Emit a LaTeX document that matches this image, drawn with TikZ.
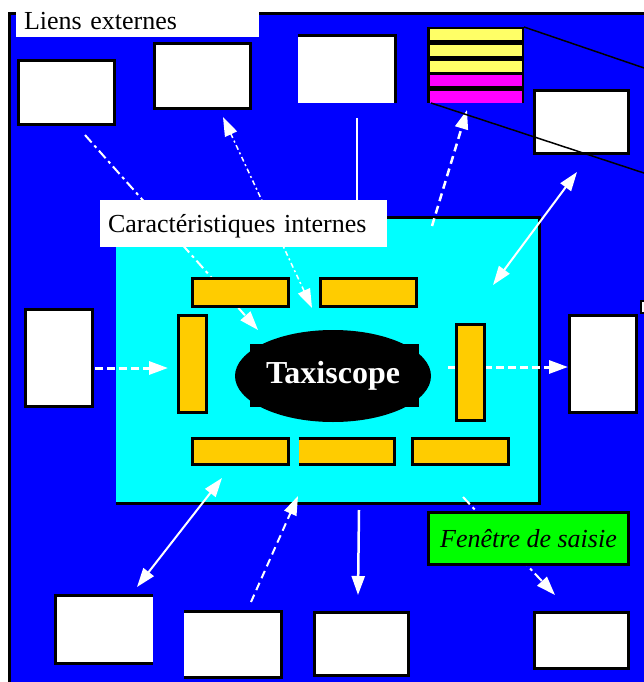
\documentclass[tikz,border=0pt]{standalone}
\usepackage{fontspec}
\setmainfont{Liberation Serif}
\usetikzlibrary{positioning,arrows.meta,shapes.geometric}
\definecolor{Fond}{HTML}{0000FF}
\definecolor{Zone}{HTML}{00FFFF}
\definecolor{Barre}{HTML}{FFCC00}
\definecolor{Pale}{HTML}{FFFF66}
\definecolor{Rose}{HTML}{FF00FF}
\definecolor{Saisie}{HTML}{00FF00}

\begin{document}
\begin{tikzpicture}[x=1pt, y=-1pt,
        ext/.style={fill=white, draw=black, line width=3pt,
                    inner sep=0pt, outer sep=0pt},
        nu/.style={fill=white, inner sep=0pt, outer sep=0pt},
        barre/.style={fill=Barre, draw=black, line width=3pt,
                      inner sep=0pt, outer sep=0pt},
        bande/.style={inner sep=0pt, outer sep=0pt,
                      minimum width=92pt, minimum height=11pt},
        etiquette/.style={fill=white, anchor=north west, align=left,
                          inner xsep=8pt, inner ysep=0pt, outer sep=0pt,
                          font=\fontsize{26}{30}\selectfont},
        lien/.style={white, line width=2pt},
        tete/.style={-{Triangle[length=19pt,width=13pt]}},
        deuxtetes/.style={{Triangle[length=19pt,width=13pt]}-{Triangle[length=19pt,width=13pt]}},
        tirets/.style={dash pattern=on 8pt off 5pt},
        mixte/.style={dash pattern=on 10pt off 4pt on 3pt off 4pt}
      ]
        \useasboundingbox (0,0) rectangle (644,682);
        \clip (0,0) rectangle (644,682);
        % fond bleu
        \fill[Fond] (9.5,13.5) rectangle (650,690);
        \draw[line width=3.5pt] (9.5,690) -- (9.5,13.5) -- (650,13.5);
        % zone interne
        \node[fill=Zone, inner sep=0pt, outer sep=0pt,
              minimum width=423.5pt, minimum height=286pt] (zone) at (327.75,360) {};
        \draw[line width=3pt] (zone.north west) -- (zone.north east)
              -- (zone.south east) -- (zone.south west);

        % extremites des liens
        \coordinate (d1) at (85,135);   \coordinate (f1) at (258,330);
        \coordinate (d2) at (312,308);  \coordinate (f2) at (223,117);
        \coordinate (d3) at (357,118);  \coordinate (f3) at (357,228);
        \coordinate (d4) at (432,226);  \coordinate (f4) at (467,110);
        \coordinate (d5) at (493,285);  \coordinate (f5) at (577,172);
        \coordinate (d6) at (95,368);   \coordinate (f6) at (168,368);
        \coordinate (d7) at (448,367);  \coordinate (f7) at (568,367);
        \coordinate (d8) at (222,478);  \coordinate (f8) at (137,587);
        \coordinate (d9) at (251,602);  \coordinate (f9) at (298,496);
        \coordinate (d10) at (359,510); \coordinate (f10) at (358,595);
        \coordinate (d11) at (463,497); \coordinate (f11) at (555,595);

        \draw[lien, tete, mixte] (d1) -- (f1);
        \draw[lien, deuxtetes, line width=1.5pt,
              dash pattern=on 5pt off 3pt on 2pt off 3pt] (d2) -- (f2);
        \draw[lien, line width=2.5pt] (d3) -- (f3);
        \draw[lien, tete, tirets, line width=2.5pt] (d4) -- (f4);
        \draw[lien, deuxtetes] (d5) -- (f5);
        \draw[lien, tete, dash pattern=on 8pt off 4pt, line width=3pt] (d6) -- (f6);
        \draw[lien, tete, dash pattern=on 8pt off 4pt, line width=3pt] (d7) -- (f7);
        \draw[lien, deuxtetes] (d8) -- (f8);
        \draw[lien, tete, tirets] (d9) -- (f9);
        \draw[lien, tete, line width=2.5pt] (d10) -- (f10);
        \draw[lien, tete, mixte] (d11) -- (f11);

        % etiquettes
        \node[etiquette, text width=227pt, text height=18pt, text depth=7pt]
              (liens) at (16,12) {Liens externes};
        \node[etiquette, text width=271pt, text height=32pt, text depth=15pt]
              (carac) at (100,200) {Caractéristiques internes};

        % fenetres externes
        \node[ext, minimum width=96pt, minimum height=64pt] (boiteA) at (66.5,92.5) {};
        \node[ext, minimum width=96pt, minimum height=65pt] (boiteB) at (202.5,76) {};
        \node[nu, minimum width=97.5pt, minimum height=67.2pt] (boiteC) at (346.75,69.1) {};
        \draw[line width=3pt] (boiteC.north west) -- (boiteC.north east) -- (boiteC.south east);
        \node[ext, minimum width=94pt, minimum height=63pt] (boiteD) at (581.5,122) {};
        \node[ext, minimum width=67pt, minimum height=97pt] (boiteE) at (59,358) {};
        \node[ext, minimum width=67pt, minimum height=97pt] (boiteF) at (603,364) {};
        \node[ext, line width=1.5pt, minimum width=10pt, minimum height=12pt] (coin) at (646,307) {};
        \node[nu, minimum width=96.9pt, minimum height=67.3pt] (boiteG) at (104.25,629.35) {};
        \draw[line width=3pt] (boiteG.north east) -- (boiteG.north west)
              -- (boiteG.south west) -- (boiteG.south east);
        \node[nu, minimum width=97.5pt, minimum height=65.6pt] (boiteH) at (232.75,644.5) {};
        \draw[line width=3pt] (boiteH.north west) -- (boiteH.north east)
              -- (boiteH.south east) -- (boiteH.south west);
        \node[ext, minimum width=94pt, minimum height=63pt] (boiteI) at (361.5,644) {};
        \node[ext, minimum width=94pt, minimum height=56pt] (boiteJ) at (581.5,640.5) {};

        % pile de bandes
        \node[fill=black, inner sep=0pt, outer sep=0pt,
              minimum width=97pt, minimum height=76pt] (pile) at (475.5,65) {};
        \node[bande, fill=Pale] (bande1) at (476,34.7) {};
        \node[bande, fill=Pale] (bande2) at (476,50.2) {};
        \node[bande, fill=Pale] (bande3) at (476,66.2) {};
        \node[bande, fill=Rose] (bande4) at (476,80.5) {};
        \node[bande, fill=Rose, minimum height=12.3pt] (bande5) at (476,96.85) {};
        \draw[line width=1.5pt] (pile.north east) -- (650,70);
        \draw[line width=1.5pt] ([xshift=4pt]pile.south west) -- (650,175);

        % barres internes
        \node[barre, minimum width=96pt, minimum height=28pt] (hautG) at (240.5,292.5) {};
        \node[barre, minimum width=96pt, minimum height=28pt] (hautD) at (368.5,292.5) {};
        \node[barre, minimum width=28pt, minimum height=97pt] (gauche) at (192.5,364) {};
        \node[barre, minimum width=28pt, minimum height=96pt] (droite) at (470.5,372.5) {};
        \node[barre, minimum width=96pt, minimum height=26pt] (basG) at (240.5,451.5) {};
        \node[barre, draw=none, minimum width=96pt, minimum height=26pt] (basM) at (346.5,451.5) {};
        \draw[line width=3pt] (basM.north west) -- (basM.north east)
              -- (basM.south east) -- (basM.south west);
        \node[barre, minimum width=96pt, minimum height=26pt] (basD) at (460.5,451.5) {};

        % noyau
        \node[fill=black, inner sep=0pt, minimum width=169pt, minimum height=63pt] (socle) at (334.5,375.5) {};
        \node[ellipse, fill=black, inner sep=0pt, minimum width=196pt, minimum height=92pt,
              text=white, font=\fontsize{32}{36}\selectfont\bfseries] (taxi) at (333,376) {Taxiscope};

        % saisie
        \node[fill=Saisie, draw=black, line width=3pt, inner sep=0pt,
              minimum width=200pt, minimum height=52pt,
              font=\fontsize{26}{30}\selectfont\itshape] (saisie) at (528.5,538.5) {Fenêtre de saisie};
      \end{tikzpicture}
\end{document}
